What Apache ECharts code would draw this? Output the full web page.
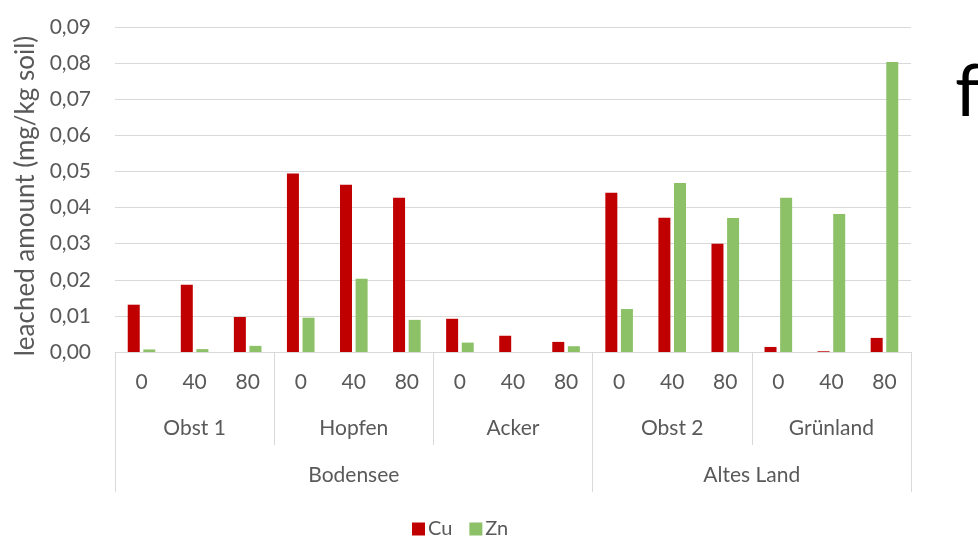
<!DOCTYPE html>
<html>
<head>
<meta charset="utf-8">
<script src="https://cdn.jsdelivr.net/npm/echarts@6/dist/echarts.min.js"></script>
<style>
  html, body { margin: 0; padding: 0; background: #fff; }
  #chart { width: 978px; height: 550px; }
</style>
</head>
<body>
<div id="chart"></div>
<script>
// Sampling depths (innermost axis level), land uses, and regions
const depths = ['0', '40', '80', '0', '40', '80', '0', '40', '80', '0', '40', '80', '0', '40', '80'];
const landUses = ['Obst 1', 'Hopfen', 'Acker', 'Obst 2', 'Grünland'];
const regions = ['Bodensee', 'Altes Land'];
const regionSpans = [9, 6]; // number of depth columns per region

// Leached amounts in mg/kg soil
const cuValues = [0.0131, 0.0186, 0.0097, 0.0494, 0.0463, 0.0427, 0.0092, 0.0045, 0.0028, 0.0441, 0.0372, 0.0300, 0.0014, 0.0002, 0.0039];
const znValues = [0.0007, 0.0008, 0.0017, 0.0095, 0.0203, 0.0089, 0.0026, 0.0000, 0.0016, 0.0119, 0.0468, 0.0371, 0.0427, 0.0382, 0.0803];

const yTicks = { min: 0, max: 0.09, interval: 0.01 };

const FONT = 'Lato, "Open Sans", sans-serif';
const TEXT = '#595959';
const LINE = '#d9d9d9';

// Region level shares the depth grid: a tick at each region start, and the
// label placed at the middle of the region's span (half-column shift when even).
const regionStarts = [];
const regionLabelAt = {};
let acc = 0;
regions.forEach((r, i) => {
  regionStarts.push(acc);
  const mid = acc + regionSpans[i] / 2;          // in column units
  const idx = Math.floor(mid - 0.5 + 1e-9);      // column whose centre is nearest on the left
  regionLabelAt[idx] = { name: r, half: (mid - 0.5 - idx) > 0.01 };
  acc += regionSpans[i];
});
const regionCols = depths.map((_, i) => (regionLabelAt[i] ? regionLabelAt[i].name : ''));

const chart = echarts.init(document.getElementById('chart'), null, { renderer: 'canvas' });

chart.setOption({
  animation: false,
  textStyle: { fontFamily: FONT },
  title: {
    text: 'f',
    left: 950,
    top: 52,
    textStyle: { fontFamily: FONT, fontSize: 72, fontWeight: 'normal', color: '#000' }
  },
  grid: { left: 115, right: 67, top: 27, bottom: 198, containLabel: false },
  legend: {
    data: ['Cu', 'Zn'],
    left: 407,
    top: 514,
    icon: 'rect',
    itemWidth: 13,
    itemHeight: 13,
    itemGap: 17,
    textStyle: { fontFamily: FONT, fontSize: 20, color: TEXT, padding: [0, 0, 0, -2] }
  },
  xAxis: [
    {
      type: 'category',
      data: depths,
      position: 'bottom',
      axisLine: { show: true, lineStyle: { color: LINE, width: 1 } },
      axisTick: { show: false },
      axisLabel: { fontSize: 21, color: TEXT, margin: 20, interval: 0 },
      splitLine: { show: false }
    },
    {
      type: 'category',
      data: landUses,
      position: 'bottom',
      axisLine: { show: false },
      axisTick: { show: true, length: 93, lineStyle: { color: LINE, width: 1 } },
      axisLabel: { fontSize: 21, color: TEXT, margin: 66, interval: 0 },
      splitLine: { show: false }
    },
    {
      type: 'category',
      data: regionCols,
      position: 'bottom',
      axisLine: { show: false },
      axisTick: {
        show: true,
        length: 140,
        interval: (idx) => regionStarts.indexOf(idx) >= 0,
        lineStyle: { color: LINE, width: 1 }
      },
      axisLabel: {
        fontSize: 21,
        color: TEXT,
        margin: 113,
        interval: (idx) => !!regionLabelAt[idx],
        formatter: (v, idx) => (regionLabelAt[idx] && regionLabelAt[idx].half ? '{s|' + v + '}' : v),
        rich: {
          s: { fontSize: 21, color: TEXT, fontFamily: FONT, padding: [0, 0, 0, 53] }
        }
      },
      splitLine: { show: false }
    }
  ],
  yAxis: {
    type: 'value',
    min: yTicks.min,
    max: yTicks.max,
    interval: yTicks.interval,
    name: 'leached amount (mg/kg soil)',
    nameLocation: 'middle',
    nameGap: 71,
    nameTextStyle: { fontFamily: FONT, fontSize: 26, color: TEXT, padding: [0, 13, 0, 0] },
    axisLine: { show: false },
    axisTick: { show: false },
    axisLabel: {
      fontSize: 21,
      color: TEXT,
      margin: 24,
      formatter: v => v.toFixed(2).replace('.', ',')
    },
    splitLine: { lineStyle: { color: LINE, width: 1 } }
  },
  series: [
    {
      name: 'Cu',
      type: 'bar',
      xAxisIndex: 0,
      data: cuValues,
      barWidth: 12,
      barGap: '30%',
      itemStyle: { color: '#c00000' }
    },
    {
      name: 'Zn',
      type: 'bar',
      xAxisIndex: 0,
      data: znValues,
      barWidth: 12,
      barGap: '30%',
      itemStyle: { color: '#8cc168' }
    }
  ]
});
</script>
</body>
</html>
